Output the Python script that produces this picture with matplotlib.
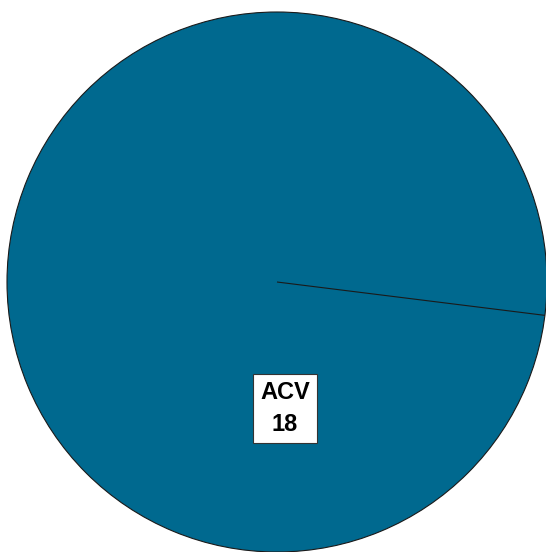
import matplotlib.pyplot as plt

labels = ["ACV", ""]
values = [18, 0]

fig = plt.figure(figsize=(5.46, 5.52), dpi=100)
ax = fig.add_axes([0, 0, 1, 1])

wedges, _ = ax.pie(values, startangle=-7.1, radius=1, colors=["#00698F", "#00698F"],
                   wedgeprops=dict(edgecolor="#1a1a1a", linewidth=0.8))

# keep 1 unit = 270 px on both axes so the circle sits where it does in the reference
ax.set_xlim(-277 / 270, 269 / 270)
ax.set_ylim(-270 / 270, 282 / 270)
ax.set_aspect("auto")
ax.axis("off")

ax.text(0.03, -0.47, f"{labels[0]}\n{values[0]}", ha="center", va="center",
        fontsize=17, fontweight="bold", linespacing=1.5,
        family="Liberation Sans",
        bbox=dict(boxstyle="square,pad=0.3", facecolor="white", edgecolor="#333333", linewidth=0.8))

fig.savefig("out.png", dpi=100)
